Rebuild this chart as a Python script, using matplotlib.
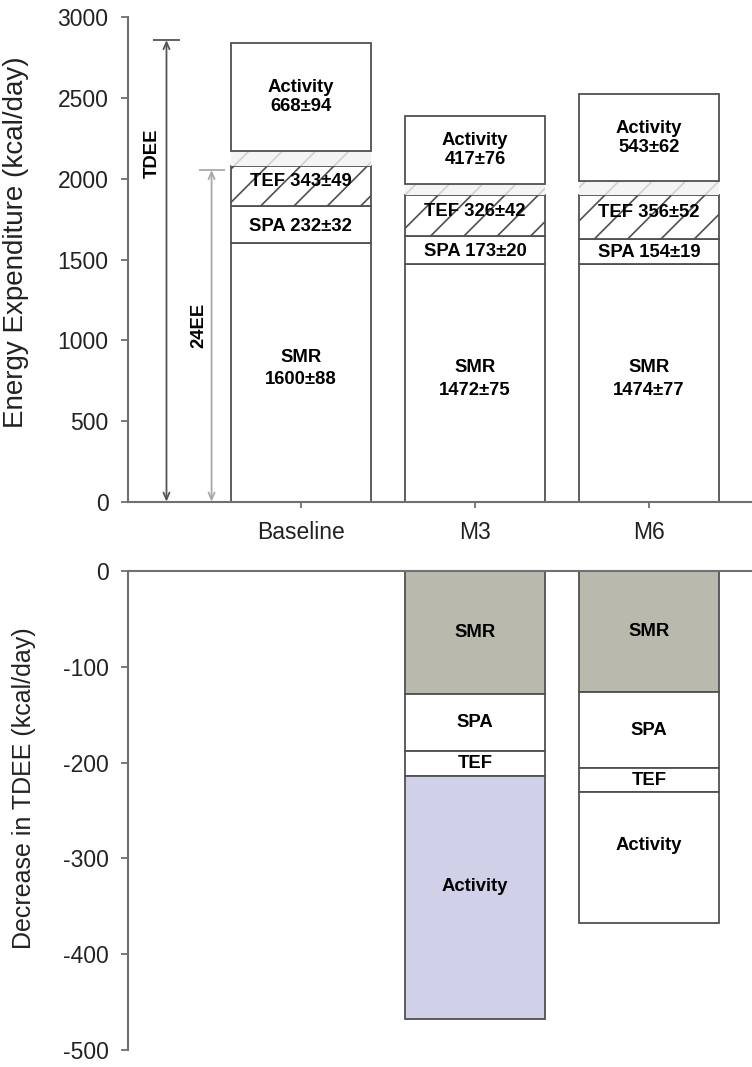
import matplotlib
matplotlib.use("Agg")
import matplotlib.pyplot as plt
import numpy as np

plt.rcParams['font.family'] = ['Liberation Sans', 'DejaVu Sans']
plt.rcParams['hatch.linewidth'] = 1.2

# ---------------- data ----------------
categories = ["Baseline", "M3", "M6"]
smr = [1600, 1472, 1474]
spa = [232, 173, 154]
tef = [343, 326, 356]
activity = [668, 417, 543]
smr_sd = [88, 75, 77]
spa_sd = [32, 20, 19]
tef_sd = [49, 42, 52]
act_sd = [94, 76, 62]
tef_in_24ee = [248, 255, 272]   # dark-hatched part of TEF (inside 24EE)
ee24_level = 2055
tdee_level = 2860

drop_categories = ["M3", "M6"]
drop_smr = [128, 126]
drop_spa = [60, 80]
drop_tef = [26, 25]
drop_activity = [254, 136]

top_ticks = [0, 500, 1000, 1500, 2000, 2500, 3000]
bottom_ticks = [0, -100, -200, -300, -400, -500]

# ---------------- style ----------------
edge = "#505050"
spine_c = "#707070"
smr_gray = "#b9b9ad"
lavender = "#d0d1e9"
lw = 1.3
bw = 0.805
fs_tick = 16.5
fs_lab = 13.3

fig = plt.figure(figsize=(7.52, 10.67), dpi=100)
ax1 = fig.add_axes([0.170, 0.5298, 0.830, 0.4538])
ax2 = fig.add_axes([0.170, 0.0159, 0.830, 0.4490])

x = np.arange(len(categories))

# ---------------- top panel ----------------
smr_a = np.array(smr)
spa_a = np.array(spa)
tef_a = np.array(tef)
act_a = np.array(activity)
tef_dark = np.array(tef_in_24ee)
tef_light = tef_a - tef_dark

b0 = np.zeros(3)
ax1.bar(x, smr_a, bw, bottom=b0, color="white", edgecolor=edge, linewidth=lw)
b1 = smr_a
ax1.bar(x, spa_a, bw, bottom=b1, color="white", edgecolor=edge, linewidth=lw)
b2 = b1 + spa_a
ax1.bar(x, tef_dark, bw, bottom=b2, color="white", edgecolor=edge, linewidth=lw,
        hatch="/")
b3 = b2 + tef_dark
ax1.bar(x, tef_light, bw, bottom=b3, color="#f4f4f4", edgecolor="#d0d0d0",
        linewidth=0, hatch="/")
b4 = b3 + tef_light
ax1.bar(x, act_a, bw, bottom=b4, color="white", edgecolor=edge, linewidth=lw)

for i in range(3):
    ax1.text(x[i], smr_a[i] / 2 + 25, f"SMR\n{smr[i]}±{smr_sd[i]}", ha="center",
             va="center", fontsize=fs_lab, fontweight="bold", linespacing=1.45)
    ax1.text(x[i], b1[i] + spa_a[i] / 2 - 8, f"SPA {spa[i]}±{spa_sd[i]}", ha="center",
             va="center", fontsize=fs_lab, fontweight="bold")
    ax1.text(x[i], b2[i] + tef_dark[i] / 2 + 25, f"TEF {tef[i]}±{tef_sd[i]}",
             ha="center", va="center", fontsize=fs_lab, fontweight="bold")
    ax1.text(x[i], b4[i] + act_a[i] / 2, f"Activity\n{activity[i]}±{act_sd[i]}",
             ha="center", va="center", fontsize=fs_lab, fontweight="bold",
             linespacing=1.15)

# TDEE / 24EE arrows
def dim_arrow(ax, xc, top, color, half):
    ax.annotate("", xy=(xc, 0), xytext=(xc, top),
                arrowprops=dict(arrowstyle="<->,head_length=0.5,head_width=0.22",
                                color=color, lw=1.3, shrinkA=0, shrinkB=0))
    ax.plot([xc - half, xc + half], [top, top], color=color, lw=1.3,
            solid_capstyle="butt")
    ax.plot([xc - half, xc + half], [0, 0], color=color, lw=1.3,
            solid_capstyle="butt", clip_on=False)

dim_arrow(ax1, -0.772, tdee_level, "#555555", 0.078)
dim_arrow(ax1, -0.513, ee24_level, "#a8a8a8", 0.075)
ax1.text(-0.853, 2160, "TDEE", rotation=90, ha="center", va="center",
         fontsize=fs_lab, fontweight="bold")
ax1.text(-0.585, 1095, "24EE", rotation=90, ha="center", va="center",
         fontsize=fs_lab, fontweight="bold")

ax1.set_xlim(-0.994, 2.592)
ax1.set_ylim(0, 3000)
ax1.set_yticks(top_ticks)
ax1.set_xticks(x)
ax1.set_xticklabels(categories)
ax1.set_ylabel("Energy Expenditure (kcal/day)", fontsize=20, color="#222222")
ax1.yaxis.set_label_coords(-0.158, 0.536)
for s in ["top", "right"]:
    ax1.spines[s].set_visible(False)
for s in ["left", "bottom"]:
    ax1.spines[s].set_color(spine_c)
    ax1.spines[s].set_linewidth(1.5)
ax1.tick_params(axis="y", direction="out", length=5, width=1.3, color=spine_c,
                labelsize=fs_tick, pad=9, labelcolor="#222222")
ax1.tick_params(axis="x", direction="out", length=4, width=1.3, color=spine_c,
                labelsize=fs_tick, pad=10, labelcolor="#222222")

# ---------------- bottom panel ----------------
x2 = np.array([categories.index(c) for c in drop_categories])
d_smr = -np.array(drop_smr)
d_spa = -np.array(drop_spa)
d_tef = -np.array(drop_tef)
d_act = -np.array(drop_activity)
act_colors = [lavender, "white"]

ax2.bar(x2, d_smr, bw, bottom=0, color=smr_gray, edgecolor=edge, linewidth=lw)
c1 = d_smr
ax2.bar(x2, d_spa, bw, bottom=c1, color="white", edgecolor=edge, linewidth=lw)
c2 = c1 + d_spa
ax2.bar(x2, d_tef, bw, bottom=c2, color="white", edgecolor=edge, linewidth=lw)
c3 = c2 + d_tef
ax2.bar(x2, d_act, bw, bottom=c3, color=act_colors, edgecolor=edge, linewidth=lw)

for j in range(len(x2)):
    ax2.text(x2[j], d_smr[j] / 2, "SMR", ha="center", va="center",
             fontsize=fs_lab, fontweight="bold")
    ax2.text(x2[j], c1[j] + d_spa[j] / 2, "SPA", ha="center", va="center",
             fontsize=fs_lab, fontweight="bold")
    ax2.text(x2[j], c2[j] + d_tef[j] / 2, "TEF", ha="center", va="center",
             fontsize=fs_lab, fontweight="bold")
    ax2.text(x2[j], c3[j] + d_act[j] / 2 + 12, "Activity", ha="center", va="center",
             fontsize=fs_lab, fontweight="bold")

ax2.set_xlim(-0.994, 2.592)
ax2.set_ylim(-500, 0)
ax2.set_yticks(bottom_ticks)
ax2.set_yticklabels([str(t) for t in bottom_ticks])
ax2.set_xticks([])
ax2.set_ylabel("Decrease in TDEE (kcal/day)", fontsize=18, color="#222222")
ax2.yaxis.set_label_coords(-0.147, 0.547)
for s in ["bottom", "right"]:
    ax2.spines[s].set_visible(False)
for s in ["left", "top"]:
    ax2.spines[s].set_color(spine_c)
    ax2.spines[s].set_linewidth(1.5)
ax2.tick_params(axis="y", direction="out", length=5, width=1.3, color=spine_c,
                labelsize=fs_tick, pad=9, labelcolor="#222222")

fig.savefig("out.png", dpi=100)
